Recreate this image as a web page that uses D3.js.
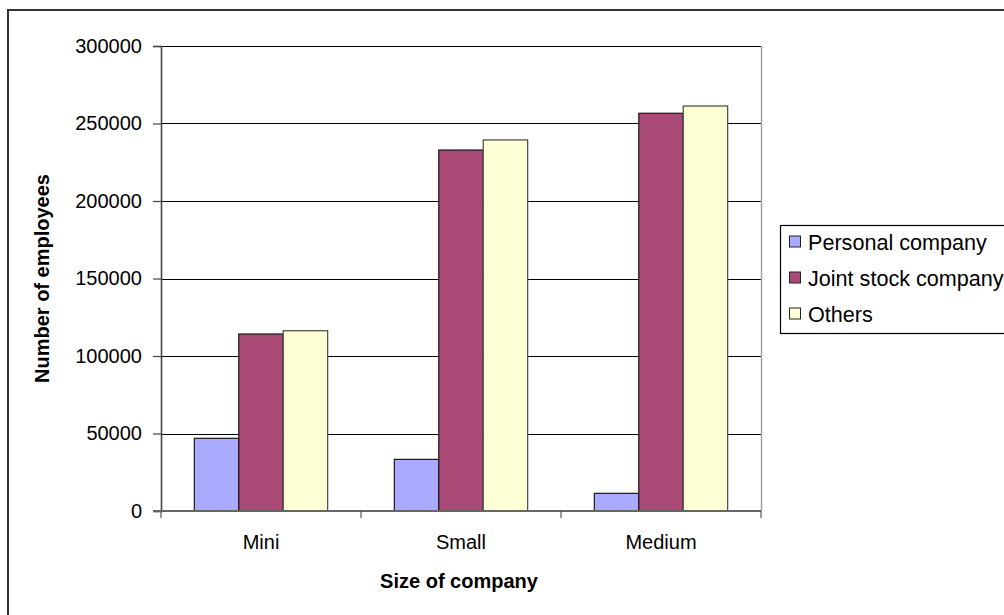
<!DOCTYPE html>
<html>
<head>
<meta charset="utf-8">
<script src="https://cdn.jsdelivr.net/npm/d3@7"></script>
<style>
  html, body { margin: 0; padding: 0; background: #fff; overflow: hidden; }
  svg { display: block; font-family: "Liberation Sans", Arial, sans-serif; }
</style>
</head>
<body>
<svg id="chart" width="1004" height="615"></svg>
<script>
// Employees by company size and legal form
const categories = ["Mini", "Small", "Medium"];
const seriesNames = ["Personal company", "Joint stock company", "Others"];
const personal = [46900, 33300, 11400];
const jointStock = [114200, 232900, 256600];
const others = [116300, 239400, 261300];
const yTicks = [0, 50000, 100000, 150000, 200000, 250000, 300000];
const colors = ["#aaaaff", "#a94a76", "#ffffd6"];

const series = [personal, jointStock, others];

const svg = d3.select("#chart");
const plot = { left: 161, right: 761, top: 46, bottom: 511 };

// outer chart frame (runs past the right and bottom edges)
svg.append("rect")
  .attr("x", 8).attr("y", 10)
  .attr("width", 1100).attr("height", 700)
  .attr("fill", "#fff")
  .attr("stroke", "#333").attr("stroke-width", 2);

const x = d3.scaleBand()
  .domain(categories)
  .range([plot.left, plot.right])
  .paddingInner(1 / 3)
  .paddingOuter(1 / 6);

const xInner = d3.scaleBand()
  .domain(d3.range(seriesNames.length))
  .range([0, x.bandwidth()]);

const y = d3.scaleLinear()
  .domain([0, 300000])
  .range([plot.bottom, plot.top]);

// gridlines
svg.append("g")
  .selectAll("line")
  .data(yTicks.filter(d => d > 0))
  .join("line")
  .attr("x1", plot.left).attr("x2", plot.right)
  .attr("y1", d => Math.round(y(d)) + 0.5)
  .attr("y2", d => Math.round(y(d)) + 0.5)
  .attr("stroke", "#000").attr("stroke-width", 1);

// plot area right edge
svg.append("line")
  .attr("x1", plot.right + 0.5).attr("x2", plot.right + 0.5)
  .attr("y1", plot.top).attr("y2", plot.bottom)
  .attr("stroke", "#a0a0a0").attr("stroke-width", 1.5);

// bars
const groups = svg.append("g")
  .selectAll("g")
  .data(categories)
  .join("g")
  .attr("transform", d => `translate(${x(d)},0)`);

groups.selectAll("rect")
  .data((c, ci) => series.map((s, si) => ({ si, v: s[ci] })))
  .join("rect")
  .attr("x", d => xInner(d.si))
  .attr("y", d => y(d.v))
  .attr("width", xInner.bandwidth())
  .attr("height", d => y(0) - y(d.v))
  .attr("fill", d => colors[d.si])
  .attr("stroke", d => d.si === 2 ? "#444" : "#1a1a1a")
  .attr("stroke-width", 1.2);

// y axis
const yAxis = svg.append("g")
  .attr("transform", `translate(${plot.left},0)`)
  .call(d3.axisLeft(y).tickValues(yTicks).tickSize(8).tickPadding(11).tickFormat(d3.format("d")));
yAxis.select(".domain").attr("stroke", "#444").attr("stroke-width", 1.6);
yAxis.selectAll(".tick line").attr("stroke", "#444").attr("stroke-width", 1.2);
yAxis.selectAll(".tick text")
  .attr("font-size", 20).attr("fill", "#000")
  .attr("font-family", "Liberation Sans, Arial, sans-serif");

// x axis
const xAxis = svg.append("g")
  .attr("transform", `translate(0,${plot.bottom})`)
  .call(d3.axisBottom(x).tickSize(0).tickPadding(24));
xAxis.select(".domain").remove();
xAxis.append("line")
  .attr("x1", plot.left - 8).attr("x2", plot.right)
  .attr("stroke", "#666").attr("stroke-width", 1.8);
xAxis.selectAll(".tick text")
  .attr("font-size", 20).attr("fill", "#000")
  .attr("font-family", "Liberation Sans, Arial, sans-serif");
// category boundary ticks
xAxis.append("g")
  .selectAll("line")
  .data(d3.range(categories.length + 1))
  .join("line")
  .attr("x1", i => plot.left + i * x.step())
  .attr("x2", i => plot.left + i * x.step())
  .attr("y1", 0).attr("y2", 7)
  .attr("stroke", "#555").attr("stroke-width", 1.2);

// axis titles
svg.append("text")
  .attr("transform", `translate(49,${(plot.top + plot.bottom) / 2}) rotate(-90)`)
  .attr("text-anchor", "middle")
  .attr("font-size", 20).attr("font-weight", "bold")
  .text("Number of employees");

svg.append("text")
  .attr("x", 459).attr("y", 588)
  .attr("text-anchor", "middle")
  .attr("font-size", 20).attr("font-weight", "bold")
  .text("Size of company");

// legend
const legend = svg.append("g");
legend.append("rect")
  .attr("x", 780.5).attr("y", 225.5)
  .attr("width", 300).attr("height", 108)
  .attr("fill", "#fff").attr("stroke", "#000").attr("stroke-width", 1.2);

const items = legend.selectAll("g.item")
  .data(seriesNames)
  .join("g")
  .attr("class", "item")
  .attr("transform", (d, i) => `translate(0,${242 + i * 36})`);

items.append("rect")
  .attr("x", 789.5).attr("y", -6)
  .attr("width", 11).attr("height", 11)
  .attr("fill", (d, i) => colors[i])
  .attr("stroke", "#222").attr("stroke-width", 1);

items.append("text")
  .attr("x", 808).attr("y", 7.5)
  .attr("font-size", 21.6)
  .text(d => d);
</script>
</body>
</html>
